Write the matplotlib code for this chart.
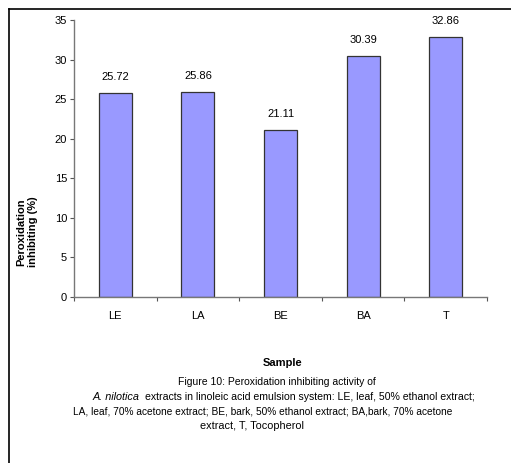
import matplotlib
matplotlib.use("Agg")
import matplotlib.pyplot as plt
from matplotlib.lines import Line2D

# data
samples = ["LE", "LA", "BE", "BA", "T"]
inhibition = [25.72, 25.86, 21.11, 30.39, 32.86]
y_ticks = [0, 5, 10, 15, 20, 25, 30, 35]

plt.rcParams["font.family"] = ["Liberation Sans", "DejaVu Sans"]

W, H = 511, 463
fig = plt.figure(figsize=(W / 100, H / 100), dpi=100)
fig.patch.set_facecolor("white")

# axes placed in pixel terms
ax = fig.add_axes([74 / W, 1 - 297 / H, 413 / W, 277 / H])
x = list(range(len(samples)))
ax.bar(x, inhibition, width=0.4, color="#9999ff", edgecolor="#333333", linewidth=0.9)
ax.set_xlim(-0.5, len(samples) - 0.5)
ax.set_ylim(0, 35)
ax.set_yticks(y_ticks)
ax.set_xticks([i - 0.5 for i in range(len(samples) + 1)], minor=False)
ax.set_xticklabels([])
ax.set_xticks(x, minor=True)
ax.set_xticklabels(samples, minor=True)
ax.tick_params(axis="x", which="minor", length=0, pad=10, labelsize=8)
ax.tick_params(axis="x", which="major", length=3, direction="out", color="#555555")
ax.tick_params(axis="y", length=3, direction="out", color="#555555", labelsize=8, pad=2)

for s in ["top", "right"]:
    ax.spines[s].set_visible(False)
for s in ["left", "bottom"]:
    ax.spines[s].set_color("#777777")
    ax.spines[s].set_linewidth(1.0)

for xi, v in zip(x, inhibition):
    ax.annotate(f"{v:.2f}", (xi, v), xytext=(0, 8), textcoords="offset points",
                ha="center", va="bottom", fontsize=8)

# y label, placed lower than axis centre like the original
fig.text(27 / W, 1 - 232 / H, "Peroxidation\ninhibiting (%)", rotation=90,
         ha="center", va="center", fontsize=8, fontweight="bold", linespacing=1.3)

# x label and caption
fig.text(283 / W, 1 - 363 / H, "Sample", ha="center", va="center",
         fontsize=8, fontweight="bold")
fig.text(277 / W, 1 - 382 / H, "Figure 10: Peroxidation inhibiting activity of",
         ha="center", va="center", fontsize=7.5)
fig.text(93 / W, 1 - 397 / H, "A. nilotica", ha="left", va="center",
         fontsize=7.8, style="italic")
fig.text(145 / W, 1 - 397 / H,
         "extracts in linoleic acid emulsion system: LE, leaf, 50% ethanol extract;",
         ha="left", va="center", fontsize=7.6)
fig.text(263 / W, 1 - 412 / H,
         "LA, leaf, 70% acetone extract; BE, bark, 50% ethanol extract; BA,bark, 70% acetone",
         ha="center", va="center", fontsize=7.3)
fig.text(252 / W, 1 - 426 / H, "extract, T, Tocopherol", ha="center", va="center", fontsize=7.8)

# page frame: left and top lines
fig.add_artist(Line2D([9 / W, 9 / W], [0, 1 - 9 / H], transform=fig.transFigure,
                      color="black", linewidth=1.2))
fig.add_artist(Line2D([9 / W, 1], [1 - 9 / H, 1 - 9 / H], transform=fig.transFigure,
                      color="black", linewidth=1.2))

fig.savefig("out.png", dpi=100)
